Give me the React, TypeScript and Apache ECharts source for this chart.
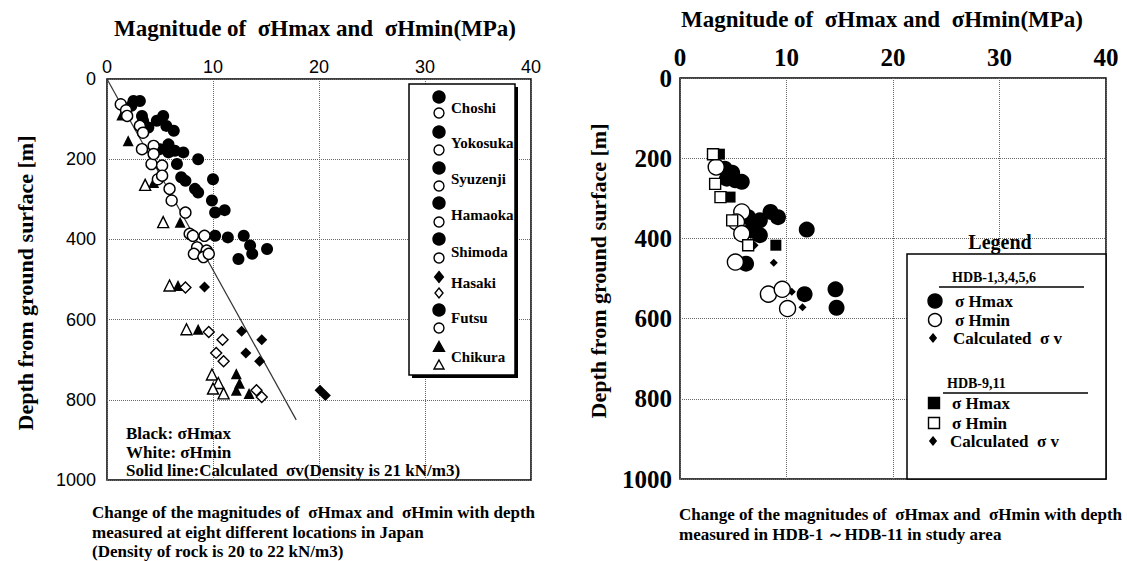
import React, { useEffect, useRef } from "react";
import * as echarts from "echarts";

const SERIF = '"Liberation Serif", "Times New Roman", serif';
const SANS = '"Liberation Sans", Arial, sans-serif';

// ---------- Left panel: eight locations in Japan [MPa, depth m] ----------
const japanCircleHmax = [
  [2.5, 55], [3.1, 55], [2.3, 67], [3.3, 92], [3.4, 104], [3.9, 121], [4.7, 104], [5.3, 92],
  [5.6, 117], [6.3, 129], [5.8, 163], [5.0, 175], [5.8, 183], [6.4, 179], [7.2, 183], [6.6, 212],
  [8.6, 200], [7.0, 245], [7.4, 254], [8.3, 274], [8.6, 283], [10.0, 250], [9.9, 303], [10.2, 333],
  [11.1, 327], [10.2, 391], [11.4, 395], [12.9, 391], [13.5, 415], [15.1, 424], [12.4, 449], [13.7, 436],
];
const japanCircleHmin = [
  [1.3, 63], [1.8, 78], [1.9, 92], [3.1, 117], [3.4, 134], [3.3, 175], [4.4, 167], [4.2, 212],
  [4.4, 187], [5.2, 216], [4.8, 250], [5.2, 241], [5.9, 274], [6.1, 303], [7.4, 333], [7.8, 386],
  [8.1, 391], [9.2, 391], [8.5, 420], [9.4, 428], [8.2, 436], [9.1, 444], [9.6, 436],
];
const hasakiHmax = [[9.2, 519], [12.7, 629], [14.6, 650], [13.1, 683], [14.4, 704], [20.1, 776], [20.6, 789]];
const hasakiHmin = [[7.4, 520], [9.6, 631], [10.9, 650], [10.3, 683], [11.0, 704], [14.1, 776], [14.6, 793]];
const chikuraHmax = [[1.4, 90], [2.0, 154], [4.4, 258], [6.9, 357], [6.7, 515], [8.6, 624], [12.2, 735], [12.5, 759], [12.2, 776], [13.4, 784]];
const chikuraHmin = [[3.6, 264], [5.3, 357], [5.9, 515], [7.5, 624], [9.9, 737], [10.5, 758], [10.0, 772], [11.0, 784]];
const sigmaVLineMPa = [0, 17.85];
const sigmaVLineDepth = [0, 850];

// ---------- Right panel: HDB boreholes [MPa, depth m] ----------
const hdbAHmax = [
  [4.2, 226], [4.9, 236], [4.4, 251], [5.2, 255], [5.8, 259], [6.4, 347], [6.9, 363], [7.5, 355], [8.5, 334],
  [9.2, 347], [6.7, 380], [7.5, 392], [11.9, 378], [6.2, 463], [11.7, 539], [14.6, 527], [14.7, 573],
];
const hdbAHmin = [[3.4, 222], [5.8, 334], [5.3, 359], [5.8, 388], [5.2, 459], [8.3, 539], [9.6, 527], [10.1, 575]];
const hdbASigmaV = [[8.8, 461], [10.5, 533], [11.5, 572]];
const hdbBHmax = [[3.7, 190], [4.7, 297], [9.0, 417]];
const hdbBHmin = [[3.1, 190], [3.3, 264], [3.8, 297], [4.9, 355], [6.4, 417]];
const hdbBSigmaV = [[7.0, 417]];

const xTickInterval = 10;
const depthTickInterval = 200;

const leftLegendNames = ["Choshi", "Yokosuka", "Syuzenji", "Hamaoka", "Shimoda", "Hasaki", "Futsu", "Chikura"];
const leftLegendShapes = ["circle", "circle", "circle", "circle", "circle", "diamond", "circle", "triangle"];

const titleText = "Magnitude of  σHmax and  σHmin(MPa)";
const depthTitle = "Depth from ground surface [m]";

function shapeEl(shape: string, cx: number, cy: number, r: number, filled: boolean) {
  const style = { fill: filled ? "#000" : "#fff", stroke: "#000", lineWidth: 1.4 };
  if (shape === "circle") return { type: "circle", z: 101, shape: { cx, cy, r }, style };
  if (shape === "square") return { type: "rect", z: 101, shape: { x: cx - r, y: cy - r, width: 2 * r, height: 2 * r }, style };
  if (shape === "diamond")
    return { type: "polygon", z: 101, shape: { points: [[cx, cy - r], [cx + r * 0.8, cy], [cx, cy + r], [cx - r * 0.8, cy]] }, style };
  return { type: "polygon", z: 101, shape: { points: [[cx, cy - r], [cx + r, cy + r * 0.8], [cx - r, cy + r * 0.8]] }, style };
}

function txt(x: number, y: number, text: string, size: number, extra: any = {}) {
  return {
    type: "text", z: 102, x, y,
    style: { text, fill: "#000", font: `bold ${size}px ${SERIF}`, textVerticalAlign: "middle", ...extra },
  };
}

export default function App() {
  const ref = useRef<HTMLDivElement>(null);
  useEffect(() => {
    if (!ref.current) return;
    const chart = echarts.init(ref.current, undefined, { renderer: "svg" });

    const gridLine = { show: true, lineStyle: { type: "dotted" as const, color: "#666", width: 1 } };
    const plain = (v: number) => String(v);

    const mkX = (gi: number, labelStyle: any, nameGap: number, shiftPad: number) => ({
      gridIndex: gi, type: "value", position: "top", min: 0, max: 40, interval: xTickInterval,
      axisLine: { show: false }, axisTick: { show: false }, splitLine: gridLine,
      axisLabel: { color: "#000", formatter: plain, ...labelStyle },
      name: titleText, nameLocation: "middle", nameGap,
      nameTextStyle: { fontFamily: SERIF, fontWeight: "bold", fontSize: 23, color: "#000", padding: [0, shiftPad, 0, 0] },
    });
    const mkY = (gi: number, labelStyle: any) => ({
      gridIndex: gi, type: "value", inverse: true, min: 0, max: 1000, interval: depthTickInterval,
      axisLine: { show: false }, axisTick: { show: false }, splitLine: gridLine,
      axisLabel: { color: "#000", formatter: plain, ...labelStyle },
    });

    const scatter = (name: string, xi: number, data: number[][], symbol: string, size: number, filled: boolean) => ({
      name, type: "scatter", xAxisIndex: xi, yAxisIndex: xi, data, symbol, symbolSize: size,
      itemStyle: { color: filled ? "#000" : "#fff", borderColor: "#000", borderWidth: filled ? 0 : 1.4, opacity: 1 },
      z: filled ? 3 : 4,
    });

    const graphic: any[] = [];
    // Y-axis titles (rotated)
    graphic.push({
      type: "text", z: 102, x: 25, y: 283, rotation: Math.PI / 2,
      style: { text: depthTitle, fill: "#000", font: `bold 22px ${SERIF}`, textAlign: "center", textVerticalAlign: "middle" },
    });
    graphic.push({
      type: "text", z: 102, x: 598, y: 271, rotation: Math.PI / 2,
      style: { text: depthTitle, fill: "#000", font: `bold 22px ${SERIF}`, textAlign: "center", textVerticalAlign: "middle" },
    });
    // Left legend box with shadow
    graphic.push({ type: "rect", z: 99, shape: { x: 412, y: 87, width: 106, height: 291 }, style: { fill: "#000" } });
    graphic.push({ type: "rect", z: 100, shape: { x: 409, y: 84, width: 106, height: 291 }, style: { fill: "#fff", stroke: "#000", lineWidth: 1.5 } });
    const nameY = [108, 143, 179, 215, 252, 283, 318, 357];
    const blackY = [97, 132, 168, 203, 239, 277, 310, 347];
    const whiteY = [113, 150, 186, 222, 258, 293, 328, 365];
    leftLegendNames.forEach((n, i) => {
      const sh = leftLegendShapes[i];
      graphic.push(shapeEl(sh, 439, blackY[i], sh === "circle" ? 6 : 5.5, true));
      graphic.push(shapeEl(sh, 439, whiteY[i], 5, false));
      graphic.push(txt(451, nameY[i], n, 15));
    });
    // Left annotations
    graphic.push(txt(126, 433, "Black: σHmax", 17));
    graphic.push(txt(126, 452, "White: σHmin", 17));
    graphic.push(txt(126, 470, "Solid line:Calculated  σv(Density is 21 kN/m3)", 17));
    // Left caption
    graphic.push(txt(92, 512, "Change of the magnitudes of  σHmax and  σHmin with depth", 17));
    graphic.push(txt(92, 532, "measured at eight different locations in Japan", 17));
    graphic.push(txt(92, 551, "(Density of rock is 20 to 22 kN/m3)", 17));

    // Right legend
    graphic.push(txt(1000, 242, "Legend", 20, { textAlign: "center" }));
    graphic.push({ type: "rect", z: 100, shape: { x: 907, y: 254, width: 199, height: 225 }, style: { fill: "#fff", stroke: "#000", lineWidth: 1.5 } });
    graphic.push(txt(952, 277, "HDB-1,3,4,5,6", 14));
    graphic.push({ type: "line", z: 101, shape: { x1: 939, y1: 287, x2: 1084, y2: 287 }, style: { stroke: "#000", lineWidth: 1.5 } });
    graphic.push(shapeEl("circle", 935, 301, 7, true));
    graphic.push(txt(955, 301, "σ Hmax", 17));
    graphic.push(shapeEl("circle", 935, 320, 6.5, false));
    graphic.push(txt(955, 320, "σ Hmin", 17));
    graphic.push(shapeEl("diamond", 933, 338, 4, true));
    graphic.push(txt(953, 338, "Calculated  σ v", 17));
    graphic.push(txt(947, 383, "HDB-9,11", 14));
    graphic.push({ type: "line", z: 101, shape: { x1: 943, y1: 393, x2: 1088, y2: 393 }, style: { stroke: "#000", lineWidth: 1.5 } });
    graphic.push(shapeEl("square", 934, 403, 5.5, true));
    graphic.push(txt(952, 403, "σ Hmax", 17));
    graphic.push(shapeEl("square", 934, 423, 5.5, false));
    graphic.push(txt(952, 423, "σ Hmin", 17));
    graphic.push(shapeEl("diamond", 933, 441, 4, true));
    graphic.push(txt(950, 441, "Calculated  σ v", 17));
    // Right caption
    graphic.push(txt(679, 514, "Change of the magnitudes of  σHmax and  σHmin with depth", 17));
    graphic.push(txt(679, 534, "measured in HDB-1 ～HDB-11 in study area", 17));

    chart.setOption({
      animation: false,
      backgroundColor: "#fff",
      grid: [
        { left: 107, top: 79, width: 424, height: 401, show: true, borderColor: "#000", borderWidth: 1.5, backgroundColor: "transparent" },
        { left: 680, top: 78, width: 426, height: 401, show: true, borderColor: "#000", borderWidth: 1.5, backgroundColor: "transparent" },
      ],
      xAxis: [
        mkX(0, { fontFamily: SANS, fontSize: 18, margin: 3 }, 39, 8),
        mkX(1, { fontFamily: SERIF, fontWeight: "bold", fontSize: 25, margin: 8 }, 47, 22),
      ],
      yAxis: [
        mkY(0, { fontFamily: SANS, fontSize: 18, margin: 11 }),
        mkY(1, { fontFamily: SERIF, fontWeight: "bold", fontSize: 25, margin: 8 }),
      ],
      series: [
        {
          name: "Calculated σv (21 kN/m3)", type: "line", xAxisIndex: 0, yAxisIndex: 0,
          data: sigmaVLineMPa.map((v, i) => [v, sigmaVLineDepth[i]]),
          symbol: "none", lineStyle: { color: "#333", width: 1.2 }, z: 2,
        },
        scatter("Japan σHmax (circles)", 0, japanCircleHmax, "circle", 12, true),
        scatter("Japan σHmin (circles)", 0, japanCircleHmin, "circle", 11, false),
        scatter("Hasaki σHmax", 0, hasakiHmax, "diamond", 11, true),
        scatter("Hasaki σHmin", 0, hasakiHmin, "diamond", 11, false),
        scatter("Chikura σHmax", 0, chikuraHmax, "triangle", 11, true),
        scatter("Chikura σHmin", 0, chikuraHmin, "triangle", 11, false),
        scatter("HDB-1,3,4,5,6 σHmax", 1, hdbAHmax, "circle", 16, true),
        scatter("HDB-1,3,4,5,6 σHmin", 1, hdbAHmin, "circle", 16, false),
        scatter("HDB-1,3,4,5,6 σv", 1, hdbASigmaV, "diamond", 8, true),
        scatter("HDB-9,11 σHmax", 1, hdbBHmax, "rect", 11, true),
        scatter("HDB-9,11 σHmin", 1, hdbBHmin, "rect", 11, false),
        scatter("HDB-9,11 σv", 1, hdbBSigmaV, "diamond", 8, true),
      ],
      graphic,
    });
    return () => chart.dispose();
  }, []);
  return <div ref={ref} style={{ position: "fixed", left: 0, top: 0, width: 1127, height: 561, background: "#fff" }} />;
}
